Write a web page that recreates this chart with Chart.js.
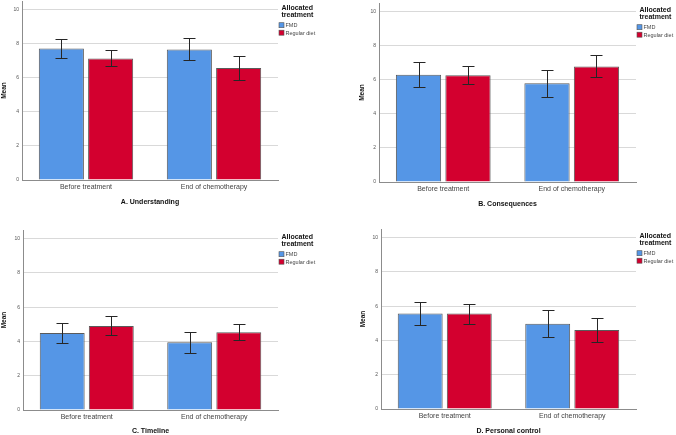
<!DOCTYPE html>
<html lang="en">
<head>
<meta charset="UTF-8">
<title>Illness perception by allocated treatment</title>
<script src="https://cdn.jsdelivr.net/npm/chart.js"></script>
<style>
  html, body { margin: 0; padding: 0; background: #fff; overflow: hidden; }
  .panel { position: absolute; }
  .panel canvas { display: block; }
</style>
</head>
<body>
<div class="panel" style="left:0;top:0"><canvas id="chartA" width="338" height="210"></canvas></div>
<div class="panel" style="left:340px;top:0"><canvas id="chartB" width="336" height="212"></canvas></div>
<div class="panel" style="left:0;top:220px"><canvas id="chartC" width="338" height="215"></canvas></div>
<div class="panel" style="left:340px;top:220px"><canvas id="chartD" width="336" height="215"></canvas></div>

<script>
const categories = ['Before treatment', 'End of chemotherapy'];
const groups = ['FMD', 'Regular diet'];
const groupColors = ['#5596e6', '#d3002f'];
const panelTitles = ['A. Understanding', 'B. Consequences', 'C. Timeline', 'D. Personal control'];
const yTicks = [0, 2, 4, 6, 8, 10];

// means with error bar ends, one row per panel (A-D), one value per category
const fmdMean = [[7.72, 7.66], [6.29, 5.79], [4.49, 3.95], [5.57, 4.98]];
const fmdLow  = [[7.15, 7.02], [5.57, 4.97], [3.89, 3.33], [4.90, 4.20]];
const fmdHigh = [[8.30, 8.32], [7.02, 6.59], [5.08, 4.57], [6.23, 5.80]];
const dietMean = [[7.13, 6.57], [6.26, 6.78], [4.90, 4.53], [5.57, 4.61]];
const dietLow  = [[6.67, 5.85], [5.73, 6.14], [4.36, 4.09], [4.98, 3.91]];
const dietHigh = [[7.60, 7.25], [6.82, 7.43], [5.47, 5.02], [6.15, 5.28]];

const FONT = '"Liberation Sans", Arial, sans-serif';
Chart.defaults.font.family = FONT;

// layout of each panel so the plot boxes line up with the original figure
const panels = [
    { id: 'chartA', padTop: 1, padBottom: 4, padRight: 60, yWidth: 22, xHeight: 26, meanPad: 0 },
    { id: 'chartB', padTop: 3, padBottom: 4, padRight: 40, yWidth: 39, xHeight: 26, meanPad: 18.5 },
    { id: 'chartC', padTop: 10, padBottom: 0, padRight: 60, yWidth: 23, xHeight: 25, meanPad: 0 },
    { id: 'chartD', padTop: 9, padBottom: 0, padRight: 40, yWidth: 41, xHeight: 26, meanPad: 19.5 }
];

const errorBars = {
    id: 'errorBars',
    afterDatasetsDraw(chart) {
        const { ctx } = chart;
        const yScale = chart.scales.y;
        ctx.save();
        ctx.strokeStyle = '#262626';
        ctx.lineWidth = 1;
        chart.data.datasets.forEach((ds, d) => {
            const meta = chart.getDatasetMeta(d);
            meta.data.forEach((bar, i) => {
                const x = Math.round(bar.x) + 0.5;
                const yLo = Math.round(yScale.getPixelForValue(ds.errLow[i])) + 0.5;
                const yHi = Math.round(yScale.getPixelForValue(ds.errHigh[i])) + 0.5;
                ctx.beginPath();
                ctx.moveTo(x, yLo); ctx.lineTo(x, yHi);
                ctx.moveTo(x - 6, yLo); ctx.lineTo(x + 6, yLo);
                ctx.moveTo(x - 6, yHi); ctx.lineTo(x + 6, yHi);
                ctx.stroke();
            });
        });
        ctx.restore();
    }
};

const legendBox = {
    id: 'legendBox',
    afterDraw(chart) {
        const { ctx, chartArea } = chart;
        const x = chartArea.right;
        const y = chartArea.top;
        ctx.save();
        ctx.textBaseline = 'middle';
        ctx.textAlign = 'left';
        ctx.fillStyle = '#111';
        ctx.font = 'bold 7px ' + FONT;
        ctx.fillText('Allocated', x + 3.5, y + 6.6);
        ctx.fillText('treatment', x + 3.5, y + 13.8);
        ctx.font = '5.5px ' + FONT;
        chart.data.datasets.forEach((ds, i) => {
            const by = y + 21.7 + i * 7.5;
            ctx.fillStyle = ds.backgroundColor;
            ctx.fillRect(x + 1, by, 5, 5);
            ctx.strokeStyle = '#555';
            ctx.lineWidth = 0.6;
            ctx.strokeRect(x + 1, by, 5, 5);
            ctx.fillStyle = '#444';
            ctx.fillText(ds.label, x + 7.5, by + 2.8);
        });
        ctx.restore();
    }
};

panels.forEach((p, k) => {
    const means = [fmdMean[k], dietMean[k]];
    const lows = [fmdLow[k], dietLow[k]];
    const highs = [fmdHigh[k], dietHigh[k]];

    new Chart(document.getElementById(p.id), {
        type: 'bar',
        data: {
            labels: categories,
            datasets: groups.map((g, d) => ({
                label: g,
                data: means[d],
                errLow: lows[d],
                errHigh: highs[d],
                backgroundColor: groupColors[d],
                borderColor: '#5a5a5a',
                borderWidth: 1,
                categoryPercentage: 0.77,
                barPercentage: 0.915
            }))
        },
        options: {
            responsive: false,
            animation: false,
            devicePixelRatio: 1,
            layout: { padding: { top: p.padTop, bottom: p.padBottom, right: p.padRight, left: 0 } },
            plugins: {
                legend: { display: false },
                tooltip: { enabled: false }
            },
            scales: {
                x: {
                    grid: { display: true, color: 'rgba(0,0,0,0)', drawTicks: false },
                    border: { display: true, color: '#8c8c8c', width: 1 },
                    ticks: { color: '#444', font: { size: 7 }, padding: 3, maxRotation: 0 },
                    title: {
                        display: true,
                        text: panelTitles[k],
                        color: '#111',
                        font: { size: 7, weight: 'bold' },
                        padding: { top: 0, bottom: 0 }
                    },
                    afterFit(scale) {
                        scale.height = p.xHeight;
                        scale.paddingLeft = 0;
                        scale.paddingRight = 0;
                    }
                },
                y: {
                    min: 0,
                    max: 10.5,
                    afterBuildTicks(scale) {
                        scale.ticks = yTicks.map(v => ({ value: v }));
                    },
                    grid: { color: '#d9d9d9', lineWidth: 1, drawTicks: false },
                    border: { display: true, color: '#8c8c8c', width: 1 },
                    ticks: { color: '#555', font: { size: 5 }, padding: 3 },
                    title: {
                        display: true,
                        text: 'Mean',
                        color: '#111',
                        font: { size: 6.5, weight: 'bold' },
                        padding: { top: p.meanPad, bottom: 0 }
                    },
                    afterFit(scale) {
                        scale.width = p.yWidth;
                        scale.paddingTop = 0;
                        scale.paddingBottom = 0;
                    }
                }
            }
        },
        plugins: [errorBars, legendBox]
    });
});
</script>
</body>
</html>
